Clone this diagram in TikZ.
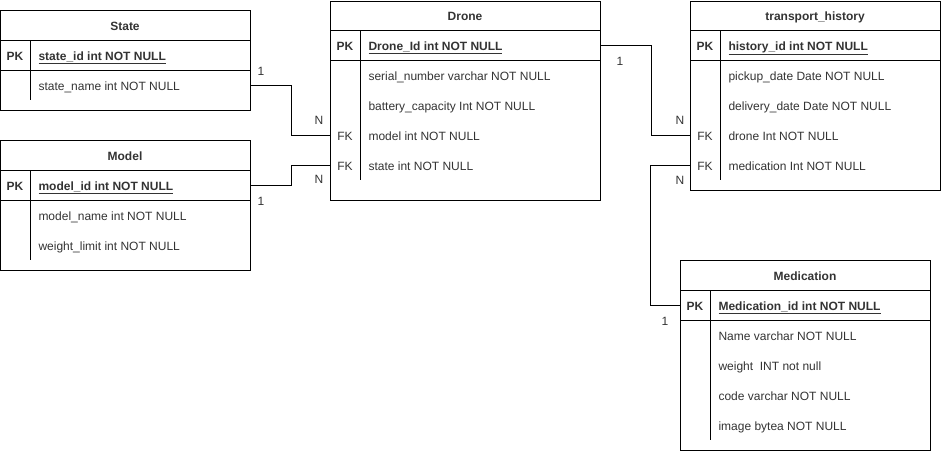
\documentclass[tikz,border=0pt]{standalone}
\usepackage{fontspec}
\setmainfont{Liberation Sans}
\usepackage{tikz}
\usetikzlibrary{positioning}
\definecolor{xtext}{HTML}{333333}
\tikzset{
  tablebox/.style 2 args = {draw, minimum width=#1pt, minimum height=#2pt, anchor=north west, inner sep=0pt},
  title/.style = {text=xtext, font=\fontsize{12}{14}\selectfont\bfseries, inner sep=0pt, text height=11pt, text depth=1pt},
  tag/.style = {text=xtext, inner sep=0pt, text height=11pt, text depth=1pt},
  pktag/.style = {tag, font=\fontsize{12}{14}\selectfont\bfseries},
  field/.style = {text=xtext, anchor=west, inner sep=0pt, text height=11pt, text depth=1pt},
  key/.style = {field, font=\fontsize{12}{14}\selectfont\bfseries},
  card/.style = {text=xtext, inner sep=0pt},
}
\newcommand{\keytext}[1]{\underline{#1}}

\begin{document}
\begin{tikzpicture}[x=1pt, y=-1pt, line width=1pt, font=\fontsize{12}{14}\selectfont]
  \useasboundingbox (0,0) rectangle (941,451);

  % State
  \node[tablebox={250}{100}] (state) at (0,10) {};
  \draw (0,40) -- (250,40) (0,70) -- (250,70) (30,40) -- (30,100);
  \node[title] (statetitle) at (125,25) {State};
  \node[pktag] (statepk) at (15,55) {PK};
  \node[key] (stateid) at (38,55) {\keytext{state\_id int NOT NULL}};
  \node[field] (statename) at (38,85) {state\_name int NOT NULL};

  % Model
  \node[tablebox={250}{130}] (model) at (0,140) {};
  \draw (0,170) -- (250,170) (0,200) -- (250,200) (30,170) -- (30,260);
  \node[title] (modeltitle) at (125,155) {Model};
  \node[pktag] (modelpk) at (15,185) {PK};
  \node[key] (modelid) at (38,185) {\keytext{model\_id int NOT NULL}};
  \node[field] (modelname) at (38,215) {model\_name int NOT NULL};
  \node[field] (modelweight) at (38,245) {weight\_limit int NOT NULL};

  % Drone
  \node[tablebox={270}{199.5}] (drone) at (330,0.5) {};
  \draw (330,30) -- (600,30) (330,60) -- (600,60) (360,30) -- (360,180);
  \node[title] (dronetitle) at (465,15) {Drone};
  \node[pktag] (dronepk) at (345,45) {PK};
  \node[key] (droneid) at (368,45) {\keytext{Drone\_Id int NOT NULL}};
  \node[field] (droneserial) at (368,75) {serial\_number varchar NOT NULL};
  \node[field] (dronebattery) at (368,105) {battery\_capacity Int NOT NULL};
  \node[tag] (dronefka) at (345,135) {FK};
  \node[field] (dronemodel) at (368,135) {model int NOT NULL};
  \node[tag] (dronefkb) at (345,165) {FK};
  \node[field] (dronestate) at (368,165) {state int NOT NULL};

  % transport_history
  \node[tablebox={250}{189.5}] (history) at (690,0.5) {};
  \draw (690,30) -- (940,30) (690,60) -- (940,60) (720,30) -- (720,180);
  \node[title] (historytitle) at (815,15) {transport\_history};
  \node[pktag] (historypk) at (705,45) {PK};
  \node[key] (historyid) at (728,45) {\keytext{history\_id int NOT NULL}};
  \node[field] (historypickup) at (728,75) {pickup\_date Date NOT NULL};
  \node[field] (historydelivery) at (728,105) {delivery\_date Date NOT NULL};
  \node[tag] (historyfka) at (705,135) {FK};
  \node[field] (historydrone) at (728,135) {drone Int NOT NULL};
  \node[tag] (historyfkb) at (705,165) {FK};
  \node[field] (historymed) at (728,165) {medication Int NOT NULL};

  % Medication
  \node[tablebox={250}{190}] (medication) at (680,260) {};
  \draw (680,290) -- (930,290) (680,320) -- (930,320) (710,290) -- (710,440);
  \node[title] (medtitle) at (805,275) {Medication};
  \node[pktag] (medpk) at (695,305) {PK};
  \node[key] (medid) at (718,305) {\keytext{Medication\_id int NOT NULL}};
  \node[field] (medname) at (718,335) {Name varchar NOT NULL};
  \node[field] (medweight) at (718,365) {weight~ INT not null};
  \node[field] (medcode) at (718,395) {code varchar NOT NULL};
  \node[field] (medimage) at (718,425) {image bytea NOT NULL};

  % relations
  \draw (statename -| state.east) -- ++(40,0) |- (dronemodel -| drone.west);
  \draw (modelid -| model.east) -- ++(40,0) |- (dronestate -| drone.west);
  \draw (droneid -| drone.east) -- ++(50,0) |- (historydrone -| history.west);
  \draw (medid -| medication.west) -- ++(-30,0) |- (historymed -| history.west);

  \node[card] (cstate) at (261,71) {1};
  \node[card] (cdronea) at (319,120) {N};
  \node[card] (cmodel) at (261,201) {1};
  \node[card] (cdroneb) at (319,179) {N};
  \node[card] (cdrone) at (620,61) {1};
  \node[card] (chista) at (680,120) {N};
  \node[card] (chistb) at (680,180) {N};
  \node[card] (cmed) at (665,321) {1};
\end{tikzpicture}
\end{document}
